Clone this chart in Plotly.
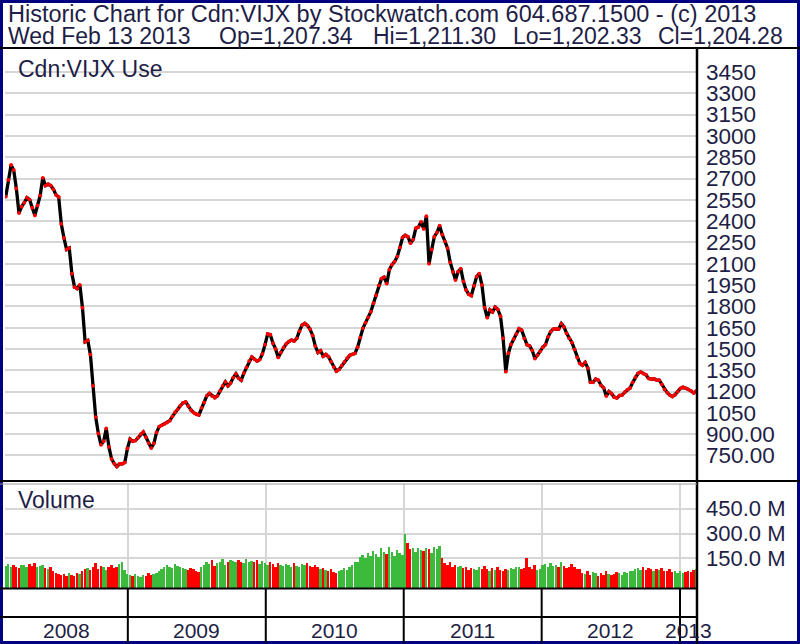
import pandas as pd
import plotly.graph_objects as go

# ---------------- data ----------------
START_DATE = "2008-02-13"
END_DATE = "2013-02-13"

price_close = [
    2572, 2690, 2795, 2760, 2630, 2457, 2502, 2530, 2565, 2552,
    2495, 2440, 2510, 2580, 2705, 2650, 2660, 2650, 2625, 2585,
    2570, 2380, 2281, 2200, 2210, 2030, 1935, 1925, 1950, 1790,
    1550, 1560, 1460, 1240, 1020, 905, 825, 850, 940, 810,
    725, 693, 672, 690, 690, 700, 800, 865, 850, 855,
    875, 900, 915, 878, 837, 802, 835, 912, 953, 962,
    972, 982, 995, 1025, 1054, 1075, 1100, 1120, 1127, 1098,
    1070, 1052, 1040, 1035, 1085, 1123, 1170, 1187, 1168, 1157,
    1170, 1205, 1240, 1268, 1240, 1260, 1298, 1325, 1295, 1280,
    1330, 1370, 1415, 1443, 1428, 1415, 1425, 1465, 1530, 1605,
    1600, 1540, 1500, 1440, 1475, 1510, 1535, 1552, 1562, 1555,
    1575, 1625, 1668, 1680, 1665, 1640, 1595, 1520, 1475, 1488,
    1448, 1462, 1445, 1410, 1372, 1343, 1356, 1382, 1408, 1435,
    1454, 1462, 1468, 1512, 1580, 1645, 1685, 1722, 1762, 1822,
    1878, 1948, 1995, 2005, 1960, 2058, 2093, 2115, 2150, 2215,
    2285, 2300, 2290, 2245, 2270, 2350, 2358, 2395, 2345, 2435,
    2100, 2200, 2290, 2320, 2368, 2305, 2258, 2210, 2110, 2042,
    1985, 2045, 2065, 1975, 1915, 1885, 1875, 1945, 2010, 2030,
    1950, 1790, 1720, 1775, 1760, 1795, 1778, 1730, 1575, 1340,
    1470, 1532, 1570, 1606, 1642, 1632, 1575, 1530, 1522, 1490,
    1432, 1455, 1483, 1512, 1530, 1585, 1622, 1640, 1642, 1640,
    1678, 1655, 1610, 1575, 1545, 1497, 1440, 1398, 1385, 1405,
    1365, 1265, 1265, 1288, 1280, 1244, 1226, 1168, 1200, 1185,
    1160, 1155, 1172, 1175, 1195, 1214, 1225, 1265, 1302, 1328,
    1337, 1327, 1318, 1292, 1288, 1290, 1281, 1281, 1250, 1215,
    1193, 1175, 1165, 1178, 1200, 1222, 1230, 1224, 1215, 1205,
    1190, 1204,
]

volume_millions = [
    105, 118, 95, 110, 100, 92, 112,
    108, 96, 115, 102, 120, 98, 105, 110, 94, 88, 100,
    70, 62, 55, 48, 52, 45, 58, 50, 44, 60, 55, 70,
    85, 92, 78, 96, 120, 88, 105, 95, 82, 100, 110, 90, 98, 115, 128,
    80, 55, 48, 40, 52, 45, 38, 50, 44, 60, 48, 55, 62, 70,
    85, 95, 108, 100, 92, 115, 104, 98, 90, 86, 78, 92, 88, 70, 66,
    96, 110, 125, 118, 138, 105, 120, 130, 145, 112, 128, 140, 135,
    125, 138, 130, 120, 148, 128, 135, 126, 140, 118, 132, 124,
    110, 126, 115, 98, 120, 108, 104, 118, 112, 100, 122, 106, 96, 114, 108, 120, 102, 98, 110, 95,
    85, 92, 78, 70, 88, 65, 60, 75, 82, 90, 78, 96,
    110, 130, 125, 156, 170, 150, 182, 165, 195, 175, 160, 210, 188, 176, 218, 190, 165, 200, 185,
    170, 300, 240, 205, 215, 190, 210, 200, 195, 215, 205, 180, 220, 205, 225, 150,
    120, 110, 130, 100, 108, 96, 104, 90, 98,
    80, 92, 85, 78, 96, 88, 102, 84, 75, 90, 82, 95, 80, 72, 88, 78, 92, 85, 100, 95, 88,
    90, 150, 96, 85, 110, 80, 88,
    108, 115, 96, 120, 102, 110, 98, 125, 105, 92, 100, 118, 96, 88, 85,
    60, 52, 70, 48, 66, 58, 44, 62, 50, 72, 56, 46, 54, 68, 60, 50, 64, 58, 70,
    75, 88, 94, 82, 96, 78, 90, 84, 72, 86, 80, 92, 76, 70, 84, 66, 74,
    62, 70, 58, 66, 72, 64, 80, 85,
]

price_ticks = [3450, 3300, 3150, 3000, 2850, 2700, 2550, 2400, 2250, 2100,
               1950, 1800, 1650, 1500, 1350, 1200, 1050, 900, 750]
price_tick_labels = ["3450", "3300", "3150", "3000", "2850", "2700", "2550", "2400", "2250", "2100",
                     "1950", "1800", "1650", "1500", "1350", "1200", "1050", "900.00", "750.00"]
volume_ticks = [150, 300, 450]
volume_tick_labels = ["150.0 M", "300.0 M", "450.0 M"]
years = [2008, 2009, 2010, 2011, 2012, 2013]

header_title = "Historic Chart for Cdn:VIJX by Stockwatch.com 604.687.1500 - (c) 2013"
header_quote = ["Wed Feb 13 2013", "Op=1,207.34", "Hi=1,211.30", "Lo=1,202.33", "Cl=1,204.28"]
price_label = "Cdn:VIJX Use"
volume_label = "Volume"

# ---------------- layout helpers ----------------
W, H = 800, 644
FONT = "Liberation Sans, Arial, sans-serif"
TXT = "#1e1e46"
GRID = "#d6d6d6"


def px(x):
    return x / W


def py(y):
    return 1 - y / H


n = min(len(price_close), len(volume_millions))
price_close = price_close[:n]
volume_millions = volume_millions[:n]
dates = pd.date_range(START_DATE, periods=n, freq="7D")

VOL_FLOOR = -30
vol_colors = []
for i in range(n):
    up = i == 0 or price_close[i] >= price_close[i - 1]
    vol_colors.append("#3cba3c" if up else "#ff0000")

x_range = [pd.Timestamp(START_DATE) - pd.Timedelta(days=2), pd.Timestamp(END_DATE) + pd.Timedelta(days=2)]

fig = go.Figure()
fig.add_trace(go.Scatter(x=dates, y=price_close, mode="lines", line=dict(color="black", width=3.3),
                         xaxis="x", yaxis="y", showlegend=False, hoverinfo="skip"))
fig.add_trace(go.Scatter(x=dates, y=price_close, mode="markers", marker=dict(color="#ff0000", size=3.8),
                         xaxis="x", yaxis="y", showlegend=False))
fig.add_trace(go.Bar(x=dates, y=[v - VOL_FLOOR for v in volume_millions], base=VOL_FLOOR,
                     marker=dict(color=vol_colors, line=dict(width=0)),
                     width=7 * 86400000 * 0.72, xaxis="x2", yaxis="y2", showlegend=False))

year_starts = [pd.Timestamp(f"{y}-01-01") for y in years[1:]]

shapes = []
black = dict(color="black", width=2)
shapes.append(dict(type="rect", xref="paper", yref="paper", x0=px(1.5), x1=px(798.5), y0=py(642.5), y1=py(1.5),
                   line=dict(color="#000080", width=3)))
shapes.append(dict(type="line", xref="paper", yref="paper", x0=0, x1=1, y0=py(48), y1=py(48), line=black))
shapes.append(dict(type="line", xref="paper", yref="paper", x0=px(697), x1=px(697), y0=py(48), y1=py(644),
                   line=dict(color="black", width=2.5)))
shapes.append(dict(type="line", xref="paper", yref="paper", x0=0, x1=1, y0=py(481), y1=py(481), line=black))
shapes.append(dict(type="line", xref="paper", yref="paper", x0=0, x1=px(697), y0=py(484), y1=py(484),
                   line=dict(color="#9a9a9a", width=1)))
shapes.append(dict(type="line", xref="paper", yref="paper", x0=0, x1=px(697), y0=py(588.5), y1=py(588.5), line=black))
shapes.append(dict(type="line", xref="paper", yref="paper", x0=0, x1=px(697), y0=py(617), y1=py(617), line=black))
for ys in year_starts:
    shapes.append(dict(type="line", xref="x2", yref="paper", x0=ys, x1=ys, y0=py(643), y1=py(588.5), line=black))

annotations = []
annotations.append(dict(text=header_title, x=px(6), y=py(14.5), xref="paper", yref="paper",
                        xanchor="left", yanchor="middle", showarrow=False, font=dict(size=23.5, color=TXT, family=FONT)))
quote_x = [6, 217, 371, 511, 656]
for xx, t in zip(quote_x, header_quote):
    annotations.append(dict(text=t, x=px(xx), y=py(36.5), xref="paper", yref="paper",
                            xanchor="left", yanchor="middle", showarrow=False,
                            font=dict(size=23, color=TXT, family=FONT)))
annotations.append(dict(text=price_label, x=px(16), y=py(69), xref="paper", yref="paper",
                        xanchor="left", yanchor="middle", showarrow=False, font=dict(size=23, color=TXT, family=FONT)))
annotations.append(dict(text=volume_label, x=px(16), y=py(500), xref="paper", yref="paper",
                        xanchor="left", yanchor="middle", showarrow=False, font=dict(size=23, color=TXT, family=FONT)))
d0, d1 = pd.Timestamp(START_DATE), pd.Timestamp(END_DATE)
for y in years:
    a = max(pd.Timestamp(f"{y}-01-01"), d0)
    b = min(pd.Timestamp(f"{y + 1}-01-01"), d1)
    mid = a + (b - a) / 2
    annotations.append(dict(text=str(y), x=mid, y=py(630), xref="x2", yref="paper",
                            xanchor="center", yanchor="middle", showarrow=False,
                            font=dict(size=21, color=TXT, family=FONT)))

fig.update_layout(
    width=W, height=H,
    margin=dict(l=0, r=0, t=0, b=0),
    paper_bgcolor="white", plot_bgcolor="white",
    showlegend=False, bargap=0,
    font=dict(family=FONT, color=TXT, size=21),
    xaxis=dict(domain=[px(5), px(697)], range=x_range, type="date", showgrid=False, showticklabels=False,
               ticks="", zeroline=False, anchor="y", matches="x2"),
    yaxis=dict(domain=[py(481), py(49)], range=[570, 3612], side="right", anchor="x",
               tickvals=price_ticks, ticktext=price_tick_labels, showgrid=True, gridcolor=GRID, gridwidth=2,
               ticks="", ticklabelstandoff=8, zeroline=False, tickfont=dict(size=22.5, color=TXT, family=FONT)),
    xaxis2=dict(domain=[px(5), px(697)], range=x_range, type="date", showgrid=True, gridcolor=GRID, gridwidth=2,
                tickvals=year_starts, showticklabels=False, ticks="", zeroline=False, anchor="y2"),
    yaxis2=dict(domain=[py(588), py(484)], range=[VOL_FLOOR, 600], side="right", anchor="x2",
                tickvals=volume_ticks, ticktext=volume_tick_labels, showgrid=True, gridcolor=GRID, gridwidth=2,
                ticks="", ticklabelstandoff=8, zeroline=False, tickfont=dict(size=22, color=TXT, family=FONT)),
    shapes=shapes,
    annotations=annotations,
)

fig.write_html("out.html", config={"displayModeBar": False},
               post_script="document.body.style.margin='0px';document.body.style.overflow='hidden';")
